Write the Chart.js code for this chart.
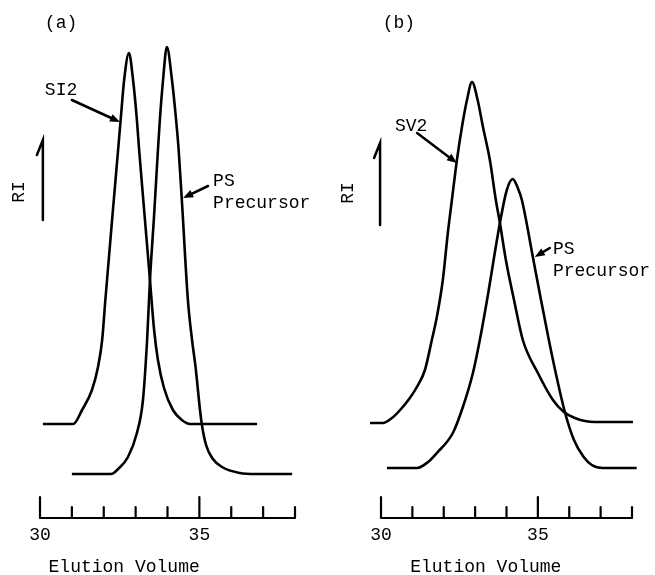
<!DOCTYPE html>
<html>
<head>
<meta charset="utf-8">
<script src="https://cdn.jsdelivr.net/npm/chart.js@4.4.0/dist/chart.umd.min.js"></script>
<style>
  html, body { margin: 0; padding: 0; background: #fff; }
  #wrap { position: relative; width: 655px; height: 575px; }
  canvas { position: absolute; top: 0; }
  #chartA { left: 0; }
  #chartB { left: 330px; }
</style>
</head>
<body>
<div id="wrap">
  <canvas id="chartA" width="330" height="575"></canvas>
  <canvas id="chartB" width="325" height="575"></canvas>
</div>
<script>
// elution volume axis
const xTicks = [30, 31, 32, 33, 34, 35, 36, 37, 38];
const xLabels = [30, 35];

// panel (a)
const si2Vol = [30.09, 31.04, 31.32, 31.63, 31.82, 31.95, 32.05, 32.28, 32.45, 32.53, 32.64, 32.79, 32.92, 33.04, 33.11, 33.28, 33.45, 33.58, 33.70, 33.89, 34.17, 34.45, 34.71, 36.81];
const si2RI  = [9.4, 9.4, 10.8, 12.8, 15.1, 17.8, 21.8, 30.5, 36.8, 39.8, 43.8, 46.5, 43.8, 39.8, 36.8, 30.3, 23.8, 18.8, 15.8, 13.0, 10.8, 9.8, 9.4, 9.4];
const psaVol = [31.00, 32.23, 32.45, 32.76, 33.04, 33.23, 33.36, 33.45, 33.58, 33.70, 33.76, 33.86, 33.98, 34.14, 34.27, 34.35, 34.45, 34.64, 34.77, 34.88, 35.02, 35.08, 35.21, 35.40, 35.71, 36.27, 36.75, 37.91];
const psaRI  = [4.4, 4.4, 4.9, 6.1, 8.5, 11.8, 17.8, 23.8, 30.3, 36.8, 39.8, 43.8, 47.1, 43.8, 39.8, 36.8, 31.8, 21.8, 17.8, 15.1, 10.8, 9.3, 7.3, 6.0, 5.1, 4.5, 4.4, 4.4];

// panel (b)
const sv2Vol = [29.65, 30.06, 30.35, 30.61, 30.92, 31.18, 31.40, 31.62, 31.78, 31.97, 32.13, 32.26, 32.42, 32.58, 32.74, 32.90, 33.08, 33.25, 33.47, 33.66, 33.79, 33.98, 34.24, 34.52, 35.00, 35.48, 35.83, 36.18, 36.50, 36.82, 38.03];
const sv2RI  = [9.5, 9.5, 10.0, 10.8, 12.0, 13.3, 14.8, 17.8, 20.1, 23.8, 28.5, 31.8, 35.8, 39.1, 41.8, 43.6, 41.8, 39.1, 35.8, 31.8, 29.5, 25.8, 21.8, 17.8, 14.5, 11.8, 10.6, 10.0, 9.7, 9.6, 9.6];
const psbVol = [30.19, 31.15, 31.50, 31.78, 32.29, 32.61, 32.93, 33.15, 33.38, 33.79, 34.01, 34.20, 34.36, 34.49, 34.84, 35.10, 35.35, 35.57, 35.86, 36.15, 36.46, 36.72, 37.07, 38.15];
const psbRI  = [5.0, 5.0, 5.6, 6.5, 8.5, 11.1, 14.5, 17.8, 21.8, 29.5, 32.8, 33.9, 33.0, 31.8, 26.1, 21.8, 17.8, 14.5, 10.6, 7.8, 6.1, 5.3, 5.0, 5.0];

Chart.defaults.font.family = "'Liberation Mono', 'DejaVu Sans Mono', monospace";
Chart.defaults.color = '#000';

// labels and arrows, placed in data units
const notesA = [
  {type: 'text', text: '(a)', x: 30.66, y: 49.5, align: 'center'},
  {type: 'text', text: 'SI2', x: 30.66, y: 42.8, align: 'center'},
  {type: 'arrow', x0: 31.0, y0: 41.8, x1: 32.51, y1: 39.6},
  {type: 'text', text: 'PS', x: 35.43, y: 33.7, align: 'left'},
  {type: 'text', text: 'Precursor', x: 35.43, y: 31.5, align: 'left'},
  {type: 'arrow', x0: 35.27, y0: 33.2, x1: 34.49, y1: 32.0},
  {type: 'vtext', text: 'RI', x: 29.34, y: 32.6},
  {type: 'ri', x: 30.09, y0: 29.8, y1: 37.8},
  {type: 'text', text: 'Elution Volume', x: 32.64, y: -4.9, align: 'center'}
];
const notesB = [
  {type: 'text', text: '(b)', x: 30.57, y: 49.5, align: 'center'},
  {type: 'text', text: 'SV2', x: 30.96, y: 39.2, align: 'center'},
  {type: 'arrow', x0: 31.15, y0: 38.5, x1: 32.42, y1: 35.5},
  {type: 'text', text: 'PS', x: 35.48, y: 26.9, align: 'left'},
  {type: 'text', text: 'Precursor', x: 35.48, y: 24.7, align: 'left'},
  {type: 'arrow', x0: 35.38, y0: 27.0, x1: 34.90, y1: 26.1},
  {type: 'vtext', text: 'RI', x: 28.95, y: 32.5},
  {type: 'ri', x: 29.97, y0: 29.3, y1: 37.5},
  {type: 'text', text: 'Elution Volume', x: 33.34, y: -4.9, align: 'center'}
];

function drawArrow(ctx, x0, y0, x1, y1) {
  const a = Math.atan2(y1 - y0, x1 - x0), L = 10, W = 4;
  ctx.beginPath();
  ctx.moveTo(x0, y0);
  ctx.lineTo(x1 - Math.cos(a) * L * 0.6, y1 - Math.sin(a) * L * 0.6);
  ctx.stroke();
  ctx.beginPath();
  ctx.moveTo(x1, y1);
  ctx.lineTo(x1 - L * Math.cos(a) + W * Math.sin(a), y1 - L * Math.sin(a) - W * Math.cos(a));
  ctx.lineTo(x1 - L * Math.cos(a) - W * Math.sin(a), y1 - L * Math.sin(a) + W * Math.cos(a));
  ctx.closePath();
  ctx.fill();
}

const panelPlugin = {
  id: 'panel',
  afterDraw(chart, args, opts) {
    const ctx = chart.ctx;
    const xs = chart.scales.x, ys = chart.scales.y;
    const px = v => xs.getPixelForValue(v);
    const py = v => ys.getPixelForValue(v);
    ctx.save();
    ctx.strokeStyle = '#000';
    ctx.fillStyle = '#000';
    ctx.lineCap = 'round';

    // axis line with upward tick marks
    const base = py(0);
    ctx.lineWidth = 2.2;
    ctx.beginPath();
    ctx.moveTo(px(xTicks[0]), base);
    ctx.lineTo(px(xTicks[xTicks.length - 1]), base);
    xs.ticks.forEach(t => {
      const len = xLabels.includes(t.value) ? 21 : 11;
      ctx.moveTo(px(t.value), base);
      ctx.lineTo(px(t.value), base - len);
    });
    ctx.stroke();

    ctx.font = "18px 'Liberation Mono', 'DejaVu Sans Mono', monospace";
    ctx.textBaseline = 'middle';
    ctx.lineWidth = 2.5;
    opts.notes.forEach(n => {
      if (n.type === 'text') {
        ctx.textAlign = n.align;
        ctx.fillText(n.text, px(n.x), py(n.y));
      } else if (n.type === 'vtext') {
        ctx.save();
        ctx.translate(px(n.x), py(n.y));
        ctx.rotate(-Math.PI / 2);
        ctx.textAlign = 'center';
        ctx.fillText(n.text, 0, 0);
        ctx.restore();
      } else if (n.type === 'arrow') {
        drawArrow(ctx, px(n.x0), py(n.y0), px(n.x1), py(n.y1));
      } else if (n.type === 'ri') {
        const x = px(n.x), top = py(n.y1);
        ctx.beginPath();
        ctx.moveTo(x, py(n.y0));
        ctx.lineTo(x, top);
        ctx.lineTo(x - 6, top + 15);
        ctx.stroke();
      }
    });
    ctx.restore();
  }
};

function makeChart(id, series, notes, pad) {
  return new Chart(document.getElementById(id), {
    type: 'line',
    data: {
      datasets: series.map(s => ({
        label: s.name,
        data: s.vol.map((v, i) => ({x: v, y: s.ri[i]})),
        borderColor: '#000',
        borderWidth: 2.6,
        pointRadius: 0,
        cubicInterpolationMode: 'monotone',
        fill: false,
        clip: false
      }))
    },
    options: {
      responsive: false,
      animation: false,
      events: [],
      layout: {padding: pad},
      plugins: {
        legend: {display: false},
        tooltip: {enabled: false},
        panel: {notes: notes}
      },
      scales: {
        x: {
          type: 'linear',
          min: 30,
          max: 38,
          afterBuildTicks: s => { s.ticks = xTicks.map(v => ({value: v})); },
          afterFit: s => { s.height = 57; },
          grid: {display: false, drawTicks: false},
          border: {display: false},
          ticks: {
            autoSkip: false,
            maxRotation: 0,
            padding: 6,
            color: '#000',
            font: {size: 18},
            callback: v => xLabels.includes(v) ? String(v) : ''
          }
        },
        y: {display: false, min: 0, max: 48}
      }
    },
    plugins: [panelPlugin]
  });
}

makeChart('chartA', [
  {name: 'SI2', vol: si2Vol, ri: si2RI},
  {name: 'PS Precursor', vol: psaVol, ri: psaRI}
], notesA, {left: 40, right: 35, top: 38, bottom: 0});

makeChart('chartB', [
  {name: 'SV2', vol: sv2Vol, ri: sv2RI},
  {name: 'PS Precursor', vol: psbVol, ri: psbRI}
], notesB, {left: 51, right: 23, top: 38, bottom: 0});
</script>
</body>
</html>
